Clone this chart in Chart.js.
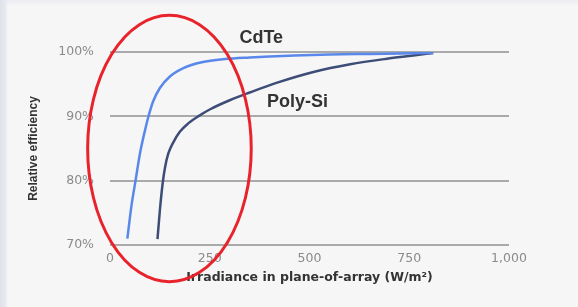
<!DOCTYPE html>
<html lang="en">
<head>
    <meta charset="UTF-8">
    <title>Relative efficiency vs irradiance</title>
    <script src="https://cdn.jsdelivr.net/npm/chart.js"></script>
    <style>
        body { margin:0; background:#f6f6f7; }
        #wrap {
            position:relative; width:578px; height:307px;
            background:
              linear-gradient(to right, #dfe2ea 0, #e6e8ef 5px, rgba(246,246,247,0) 8px),
              linear-gradient(to bottom, #ecedf2 0, rgba(246,246,247,0) 6px),
              #f6f6f7;
        }
        #myChart { position:absolute; left:0; top:0; }
    </style>
</head>
<body>
    <div id="wrap">
        <canvas id="myChart" width="578" height="307"></canvas>
    </div>

    <script>
        // irradiance (W/m2) and relative efficiency (%)
        const cdteX = [43.5, 54, 64, 75, 88, 96, 108, 125, 150, 184, 230, 288, 350, 400, 463, 550, 648, 730, 810];
        const cdteY = [71.0, 76.2, 80.0, 84.2, 87.9, 89.9, 92.3, 94.4, 96.2, 97.5, 98.4, 98.9, 99.15, 99.3, 99.45, 99.6, 99.7, 99.78, 99.85];

        const polyX = [119, 125, 132, 138, 146, 159, 175, 196, 221, 251, 300, 350, 417, 510, 602, 694, 760, 810];
        const polyY = [70.9, 75.4, 79.6, 82.1, 84.2, 86.0, 87.6, 88.9, 90.0, 91.1, 92.5, 93.7, 95.2, 96.9, 98.1, 98.95, 99.45, 99.85];

        const xTicks = [0, 250, 500, 750, 1000];
        const yTicks = [70, 80, 90, 100];

        // red circle around the low-light region, in data units
        const ringCenter = [149, 85];
        const ringRadius = [205, 20.7];

        const toPoints = (xs, ys) => xs.map((x, i) => ({ x: x, y: ys[i] }));

        const notes = {
            id: 'notes',
            afterDraw(chart) {
                const ctx = chart.ctx;
                const xs = chart.scales.x, ys = chart.scales.y;
                ctx.save();
                ctx.fillStyle = '#333';
                ctx.font = 'bold 18px "Liberation Sans", Arial, sans-serif';
                ctx.textAlign = 'center';
                ctx.textBaseline = 'middle';
                ctx.fillText('CdTe', xs.getPixelForValue(379), ys.getPixelForValue(102.15));
                ctx.fillText('Poly-Si', xs.getPixelForValue(470), ys.getPixelForValue(92.3));

                const cx = xs.getPixelForValue(ringCenter[0]);
                const cy = ys.getPixelForValue(ringCenter[1]);
                const rx = xs.getPixelForValue(ringCenter[0] + ringRadius[0]) - cx;
                const ry = cy - ys.getPixelForValue(ringCenter[1] + ringRadius[1]);
                ctx.beginPath();
                ctx.ellipse(cx, cy, rx, ry, 0, 0, Math.PI * 2);
                ctx.strokeStyle = '#e8232b';
                ctx.lineWidth = 3;
                ctx.stroke();
                ctx.restore();
            }
        };

        const ctx = document.querySelector('#myChart').getContext('2d');

        new Chart(ctx, {
            type: 'line',
            data: {
                datasets: [{
                    label: 'CdTe',
                    data: toPoints(cdteX, cdteY),
                    borderColor: '#5a88ea',
                    borderWidth: 2.5,
                    pointRadius: 0,
                    cubicInterpolationMode: 'monotone'
                }, {
                    label: 'Poly-Si',
                    data: toPoints(polyX, polyY),
                    borderColor: '#3e4d78',
                    borderWidth: 2.5,
                    pointRadius: 0,
                    cubicInterpolationMode: 'monotone'
                }]
            },
            options: {
                responsive: false,
                animation: false,
                layout: { padding: { left: 6, right: 69, top: 52, bottom: 0 } },
                plugins: { legend: { display: false }, tooltip: { enabled: false } },
                scales: {
                    x: {
                        type: 'linear',
                        min: 0, max: 1000,
                        afterFit: (s) => { s.height = 62; },
                        afterBuildTicks: (s) => { s.ticks = xTicks.map(v => ({ value: v })); },
                        grid: { display: false, drawTicks: false },
                        border: { display: false },
                        ticks: {
                            padding: 6,
                            color: '#8a8a8a',
                            font: { family: '"DejaVu Sans", sans-serif', size: 12.5 },
                            callback: (v) => v.toLocaleString('en-US')
                        },
                        title: {
                            display: true,
                            text: 'Irradiance in plane-of-array (W/m²)',
                            color: '#333',
                            font: { family: '"DejaVu Sans", sans-serif', size: 12.5, weight: 'bold' },
                            padding: { top: 0, bottom: 22 }
                        }
                    },
                    y: {
                        min: 70, max: 100,
                        afterFit: (s) => { s.width = 104; },
                        afterBuildTicks: (s) => { s.ticks = yTicks.map(v => ({ value: v })); },
                        grid: { color: '#aaaaaa', lineWidth: 2, drawTicks: false },
                        border: { display: false },
                        ticks: {
                            padding: 16,
                            color: '#8a8a8a',
                            font: { family: '"DejaVu Sans", sans-serif', size: 12.5 },
                            callback: (v) => v + '%'
                        },
                        title: {
                            display: true,
                            text: 'Relative efficiency',
                            color: '#333',
                            font: { family: '"Liberation Sans Narrow", "Liberation Sans", Arial, sans-serif', size: 12, weight: 'bold' },
                            padding: { top: 20, bottom: 0 }
                        }
                    }
                }
            },
            plugins: [notes]
        });
    </script>
</body>
</html>
